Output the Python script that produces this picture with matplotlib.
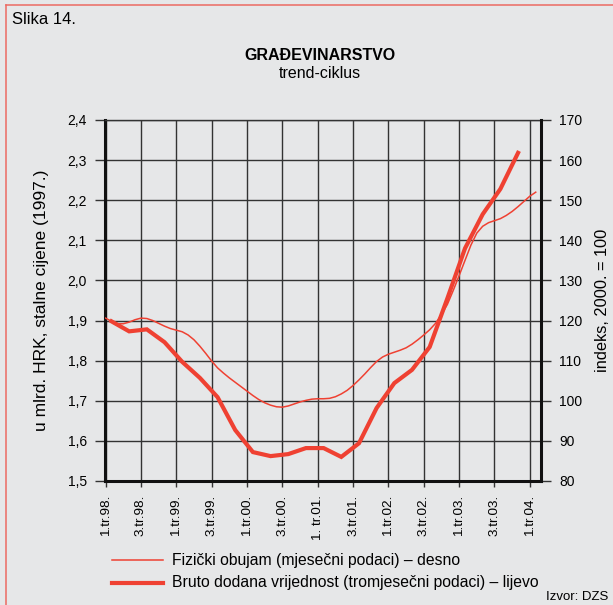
import matplotlib
matplotlib.use("Agg")
import matplotlib.pyplot as plt
from matplotlib.lines import Line2D

plt.rcParams["font.family"] = ["Liberation Sans", "DejaVu Sans"]

# x axis in months from January 1998
tick_months = list(range(0, 73, 6))
tick_labels = ["1.tr.98.", "3.tr.98.", "1.tr.99.", "3.tr.99.", "1.tr.00.",
               "3.tr.00.", "1. tr.01.", "3.tr.01.", "1.tr.02.", "3.tr.02.",
               "1.tr.03.", "3.tr.03.", "1.tr.04."]

# monthly physical volume index (right axis), Jan 1998 .. Feb 2004
fizicki = [120.6, 119.8, 119.2, 119.2, 119.6, 120.2, 120.6, 120.5, 120.0, 119.3,
           118.6, 118.0, 117.6, 117.2, 116.4, 115.2, 113.6, 111.8, 109.9, 108.2,
           106.9, 105.7, 104.6, 103.5, 102.4, 101.3, 100.3, 99.5, 98.9, 98.5,
           98.4, 98.7, 99.2, 99.7, 100.1, 100.4, 100.5, 100.5, 100.6, 101.0,
           101.7, 102.6, 103.8, 105.2, 106.7, 108.3, 109.8, 110.9, 111.6, 112.1,
           112.6, 113.2, 114.1, 115.2, 116.4, 117.7, 119.3, 121.5, 124.0, 127.5,
           131.2, 135.0, 138.8, 141.8, 143.5, 144.4, 144.9, 145.4, 146.2, 147.2,
           148.4, 149.7, 151.0, 152.0]
fizicki_months = list(range(len(fizicki)))

# quarterly gross value added, bn HRK (left axis), 1998 Q1 .. 2003 Q4
bruto = [1.898, 1.873, 1.878, 1.846, 1.797, 1.757, 1.709, 1.627, 1.572, 1.562,
         1.567, 1.582, 1.582, 1.560, 1.594, 1.682, 1.744, 1.777, 1.834, 1.955,
         2.080, 2.165, 2.228, 2.318]
bruto_months = [3 * k + 1 for k in range(len(bruto))]

red = "#ef4132"
bg = "#e6e7e8"
grid = "#333333"

fig = plt.figure(figsize=(6.13, 6.05), dpi=100, facecolor=bg)
ax = fig.add_axes([0.1713, 0.205, 0.7113, 0.5967], facecolor=bg)
ax2 = ax.twinx()

ax.plot(bruto_months, bruto, color=red, lw=3.0, solid_joinstyle="miter", zorder=3)
ax2.plot(fizicki_months, fizicki, color=red, lw=1.1, zorder=3)

ax.set_xlim(-0.1, 73.9)
ax.set_ylim(1.5, 2.4)
ax2.set_ylim(80, 170)

yt = [1.5 + 0.1 * i for i in range(10)]
ax.set_yticks(yt)
ax.set_yticklabels([f"{v:.1f}".replace(".", ",") for v in yt], fontsize=10)
ax2.set_yticks(range(80, 171, 10))
ax2.set_yticklabels([str(v) for v in range(80, 171, 10)], fontsize=10)
ax.set_xticks(tick_months)
ax.set_xticklabels(tick_labels, rotation=90, fontsize=9.7, va="top")

ax.grid(True, color=grid, lw=1.0)
ax.set_axisbelow(True)
ax.tick_params(axis="y", length=7, width=1, color=grid, pad=6)
ax.tick_params(axis="x", length=4, width=1, color=grid, pad=6)
ax2.tick_params(axis="y", length=7, width=1, color=grid, pad=6)

for s in ["left", "bottom"]:
    ax.spines[s].set_linewidth(2.2)
    ax.spines[s].set_color("#111111")
ax.spines["top"].set_linewidth(1.0)
ax.spines["top"].set_color(grid)
ax.spines["right"].set_visible(False)
ax2.spines["right"].set_linewidth(2.2)
ax2.spines["right"].set_color("#111111")
for s in ["left", "bottom", "top"]:
    ax2.spines[s].set_visible(False)

ax.set_ylabel("u mlrd. HRK, stalne cijene (1997.)", fontsize=12.5, labelpad=13)
ax2.set_ylabel("indeks, 2000. = 100", fontsize=11.8, labelpad=9)

fig.text(12 / 613, 1 - 20 / 605, "Slika 14.", fontsize=12, va="center")
fig.text(320 / 613, 1 - 55 / 605, "GRAĐEVINARSTVO", fontsize=11.5,
         fontweight="bold", ha="center", va="center")
fig.text(320 / 613, 1 - 73 / 605, "trend-ciklus", fontsize=11.5,
         ha="center", va="center")

# legend drawn by hand below the chart
for ypix, lw, label in [(560, 1.1, "Fizički obujam (mjesečni podaci) – desno"),
                        (583, 3.0, "Bruto dodana vrijednost (tromjesečni podaci) – lijevo")]:
    fig.add_artist(Line2D([112 / 613, 163 / 613], [1 - ypix / 605] * 2,
                          color=red, lw=lw, transform=fig.transFigure))
    fig.text(172 / 613, 1 - ypix / 605, label, fontsize=11.3, va="center")

fig.text(546 / 613, 1 - 597 / 605, "Izvor: DZS", fontsize=9.5, va="center")

# red frame on the top and left edge
fig.add_artist(Line2D([6 / 613, 6 / 613], [0, 1 - 5 / 605], color="#ec6a62",
                      lw=1.1, transform=fig.transFigure))
fig.add_artist(Line2D([6 / 613, 1], [1 - 5 / 605, 1 - 5 / 605], color="#ec6a62",
                      lw=1.1, transform=fig.transFigure))

fig.savefig("out.png", dpi=100, facecolor=bg)
